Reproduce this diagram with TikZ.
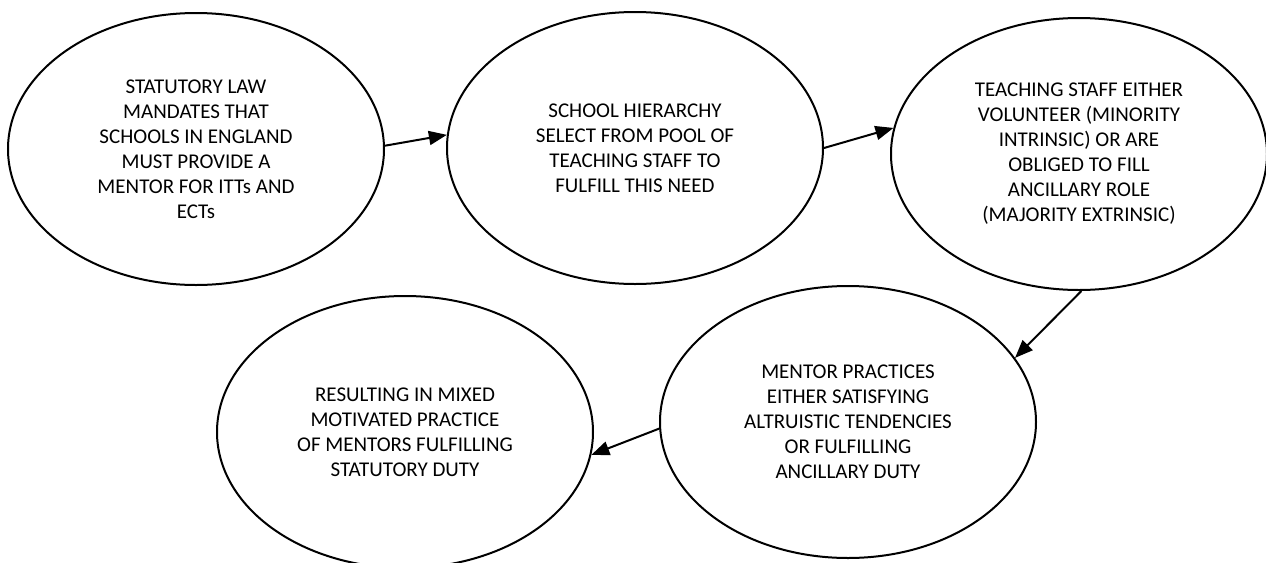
\documentclass[tikz,border=0pt]{standalone}
\usepackage{fontspec}
\setmainfont{Carlito}
\usetikzlibrary{shapes.geometric,arrows.meta}

\tikzset{
    bubble/.style={ellipse, draw, line width=1pt, inner sep=0pt,
        minimum width=188pt, minimum height=136pt, align=center,
        font=\fontsize{10.5pt}{12.5pt}\selectfont},
    flow/.style={-{Triangle[length=9pt,width=7pt]}, line width=1pt}
}

\begin{document}
\begin{tikzpicture}[x=0.5pt,y=-0.5pt]
    \useasboundingbox (0,0) rectangle (1266,563);

    % Top row
    \node[bubble] (law) at (196,149) {STATUTORY LAW\\MANDATES THAT\\SCHOOLS IN ENGLAND\\MUST PROVIDE A\\MENTOR FOR ITTs AND\\ECTs};
    \node[bubble] (select) at (635,148) {SCHOOL HIERARCHY\\SELECT FROM POOL OF\\TEACHING STAFF TO\\FULFILL THIS NEED};
    \node[bubble] (staff) at (1079,154) {TEACHING STAFF EITHER\\VOLUNTEER (MINORITY\\INTRINSIC) OR ARE\\OBLIGED TO FILL\\ANCILLARY ROLE\\(MAJORITY EXTRINSIC)};

    % Bottom row
    \node[bubble] (practice) at (848,422) {MENTOR PRACTICES\\EITHER SATISFYING\\ALTRUISTIC TENDENCIES\\OR FULFILLING\\ANCILLARY DUTY};
    \node[bubble] (result) at (405,432) {RESULTING IN MIXED\\MOTIVATED PRACTICE\\OF MENTORS FULFILLING\\STATUTORY DUTY};

    % Arrows
    \draw[flow] (law.1) -- (select.176);
    \draw[flow] (select.0) -- (staff.172);
    \draw[flow] (staff.-89) -- (practice.21);
    \draw[flow] (practice.182) -- (result.-7);
\end{tikzpicture}
\end{document}
